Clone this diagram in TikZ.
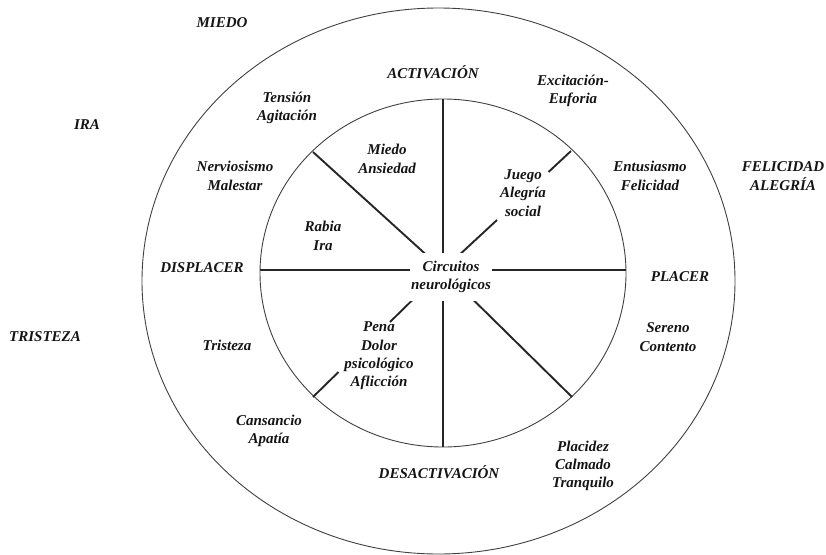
\documentclass[tikz,border=0pt]{standalone}
\usepackage{fontspec}
\setmainfont{Liberation Serif}
\begin{document}
\begin{tikzpicture}[x=1pt,y=-1pt,
  lbl/.style={font=\fontsize{15}{18.3}\selectfont\bfseries\itshape,
              align=center, inner sep=0pt, text=black!92},
  hubbox/.style={lbl, fill=white, inner xsep=1pt, inner ysep=8.5pt},
  rim/.style={draw=black!75, line width=0.9pt},
  spoke/.style={draw=black!85, line width=1.9pt}]
\useasboundingbox (0,0) rectangle (826,554);

% outer and inner rings
\draw[rim] (438.5,281) ellipse [x radius=296.5, y radius=273];
\draw[rim] (443,273) ellipse [x radius=183, y radius=174];

% spokes of the inner ring
\coordinate (hub) at (443,270);
\coordinate (pT)  at (443,99);
\coordinate (pB)  at (443,447);
\coordinate (pL)  at (260,270);
\coordinate (pR)  at (626,270);
\coordinate (pUL) at (313,152);
\coordinate (pUR) at (571,151);
\coordinate (pLR) at (572,397);
\coordinate (pLL) at (313,397);
\foreach \p in {pT,pB,pL,pR,pUL,pLR}
  \draw[spoke] (hub) -- (\p);

% the two spokes that pass behind a label
\coordinate (urIn)  at (497,220);
\coordinate (urOut) at (548.5,172);
\coordinate (llIn)  at (390,322);
\coordinate (llOut) at (338.5,372);
\draw[spoke] (hub) -- (urIn);
\draw[spoke] (urOut) -- (pUR);
\draw[spoke] (hub) -- (llIn);
\draw[spoke] (llOut) -- (pLL);

% labels
\node[lbl] (miedo) at (222,23) {MIEDO};
\node[lbl] (activ) at (433,72) {ACTIVACIÓN};
\node[lbl] (tension) at (287,108) {Tensión\\Agitación};
\node[lbl] (excit) at (573,91) {Excitación-\\Euforia};
\node[lbl] (ira) at (87,125) {IRA};
\node[lbl] (nervio) at (235,176) {Nerviosismo\\Malestar};
\node[lbl] (miedoans) at (387,159) {Miedo\\Ansiedad};
\node[lbl] (juego) at (523,193) {Juego\\Alegría\\social};
\node[lbl] (entus) at (650,176) {Entusiasmo\\Felicidad};
\node[lbl] (felic) at (783,176) {FELICIDAD\\ALEGRÍA};
\node[lbl] (rabia) at (323,236) {Rabia\\Ira};
\node[lbl] (displ) at (202,268) {DISPLACER};
\node[hubbox] (circ) at (451,277) {Circuitos\\neurológicos};
\node[lbl] (placer) at (680,277) {PLACER};
\node[lbl] (tristM) at (45,337) {TRISTEZA};
\node[lbl] (trist) at (227,345) {Tristeza};
\node[lbl] (pena) at (379,356) {Pena\\Dolor\\psicológico\\Aflicción};
\node[lbl] (sereno) at (668,337) {Sereno\\Contento};
\node[lbl] (cansancio) at (269,431) {Cansancio\\Apatía};
\node[lbl] (desact) at (439,472) {DESACTIVACIÓN};
\node[lbl] (placidez) at (583,466) {Placidez\\Calmado\\Tranquilo};
\end{tikzpicture}
\end{document}
